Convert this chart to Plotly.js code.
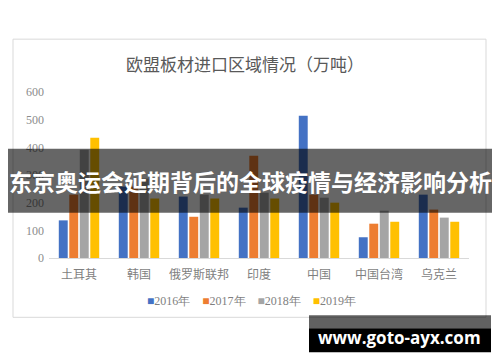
<!DOCTYPE html>
<html>
<head>
<meta charset="utf-8">
<script src="https://cdn.plot.ly/plotly-3.0.1.min.js"></script>
<style>html,body{margin:0;padding:0;background:#fff;}#chart{width:500px;height:362px;}</style>
</head>
<body>
<div id="chart"></div>
<script>
// ---- data ----
const categories = ["土耳其", "韩国", "俄罗斯联邦", "印度", "中国", "中国台湾", "乌克兰"];
const seriesNames = ["2016年", "2017年", "2018年", "2019年"];
const v2016 = [136, 258, 222, 182, 514, 75, 229];
const v2017 = [229, 258, 149, 370, 229, 124, 175];
const v2018 = [391, 287, 229, 236, 218, 171, 146];
const v2019 = [435, 215, 215, 215, 200, 131, 131];
const yTicks = [0, 100, 200, 300, 400, 500, 600];
const chartTitle = "欧盟板材进口区域情况（万吨）";
const bannerText = "东京奥运会延期背后的全球疫情与经济影响分析";
const watermarkText = "www.goto-ayx.com";

const colors = ["#4472C4", "#ED7D31", "#A5A5A5", "#FFC000"];
const seriesValues = [v2016, v2017, v2018, v2019];

// pixel -> paper helpers (plot area: x 49..469, y 92..258.5)
const L = 49, R = 469, T = 92, B = 258.5;
const px = p => (p - L) / (R - L);
const py = p => (B - p) / (B - T);

const traces = seriesNames.map((name, i) => ({
  type: "bar",
  name: name,
  x: categories,
  y: seriesValues[i],
  marker: {color: colors[i]},
  hoverinfo: "x+y+name"
}));

const legendText = seriesNames.map((s, i) =>
  `<span style="color:${colors[i]}">■</span>${s}`).join("&nbsp;&nbsp;&nbsp;&nbsp;");

const layout = {
  width: 500, height: 362,
  margin: {l: L, r: 500 - R, t: T, b: 362 - B, pad: 0},
  paper_bgcolor: "#ffffff",
  plot_bgcolor: "#ffffff",
  showlegend: false,
  barmode: "group",
  bargap: 0.3,
  bargroupgap: 0.15,
  xaxis: {
    type: "category",
    showline: true, linecolor: "#d9d9d9", linewidth: 1,
    showgrid: false, zeroline: false, ticks: "",
    ticklabelstandoff: 6,
    tickfont: {family: "Noto Sans CJK SC", size: 12, color: "#7f7f7f"}
  },
  yaxis: {
    range: [0, 600],
    tickvals: yTicks,
    showline: false, showgrid: false, zeroline: false, ticks: "",
    ticklabelstandoff: 4,
    tickfont: {family: "Liberation Serif", size: 12, color: "#8c8c8c"}
  },
  shapes: [
    {type: "rect", xref: "paper", yref: "paper", x0: px(13), x1: px(486), y0: py(39), y1: py(318),
     line: {color: "#d9d9d9", width: 1}, fillcolor: "rgba(0,0,0,0)", layer: "below"},
    {type: "rect", xref: "paper", yref: "paper", x0: px(8), x1: px(492), y0: py(149), y1: py(213),
     line: {width: 0}, fillcolor: "rgba(0,0,0,0.6)", layer: "above"},
    {type: "rect", xref: "paper", yref: "paper", x0: px(309), x1: px(491), y0: py(316), y1: py(329),
     line: {width: 0}, fillcolor: "rgba(0,0,0,0.62)", layer: "above"},
    {type: "rect", xref: "paper", yref: "paper", x0: px(309), x1: px(491), y0: py(329), y1: py(353),
     line: {width: 0}, fillcolor: "#000000", layer: "above"}
  ],
  annotations: [
    {text: chartTitle, xref: "paper", yref: "paper", x: px(245), y: py(63), showarrow: false,
     xanchor: "center", yanchor: "middle",
     font: {family: "Noto Sans CJK SC", size: 17, color: "#595959"}},
    {text: legendText, xref: "paper", yref: "paper", x: px(251), y: py(302), showarrow: false,
     xanchor: "center", yanchor: "middle",
     font: {family: "Liberation Serif", size: 12, color: "#7f7f7f"}},
    {text: "<b>" + bannerText + "</b>", xref: "paper", yref: "paper", x: px(250), y: py(181), showarrow: false,
     xanchor: "center", yanchor: "middle",
     font: {family: "Noto Sans CJK SC", size: 23, color: "#ffffff"}},
    {text: "<b>" + watermarkText + "</b>", xref: "paper", yref: "paper", x: px(399), y: py(338), showarrow: false,
     xanchor: "center", yanchor: "middle",
     font: {family: "Open Sans", size: 17, color: "#ffffff"}}
  ]
};

Plotly.newPlot("chart", traces, layout, {displayModeBar: false, staticPlot: true});
</script>
</body>
</html>
